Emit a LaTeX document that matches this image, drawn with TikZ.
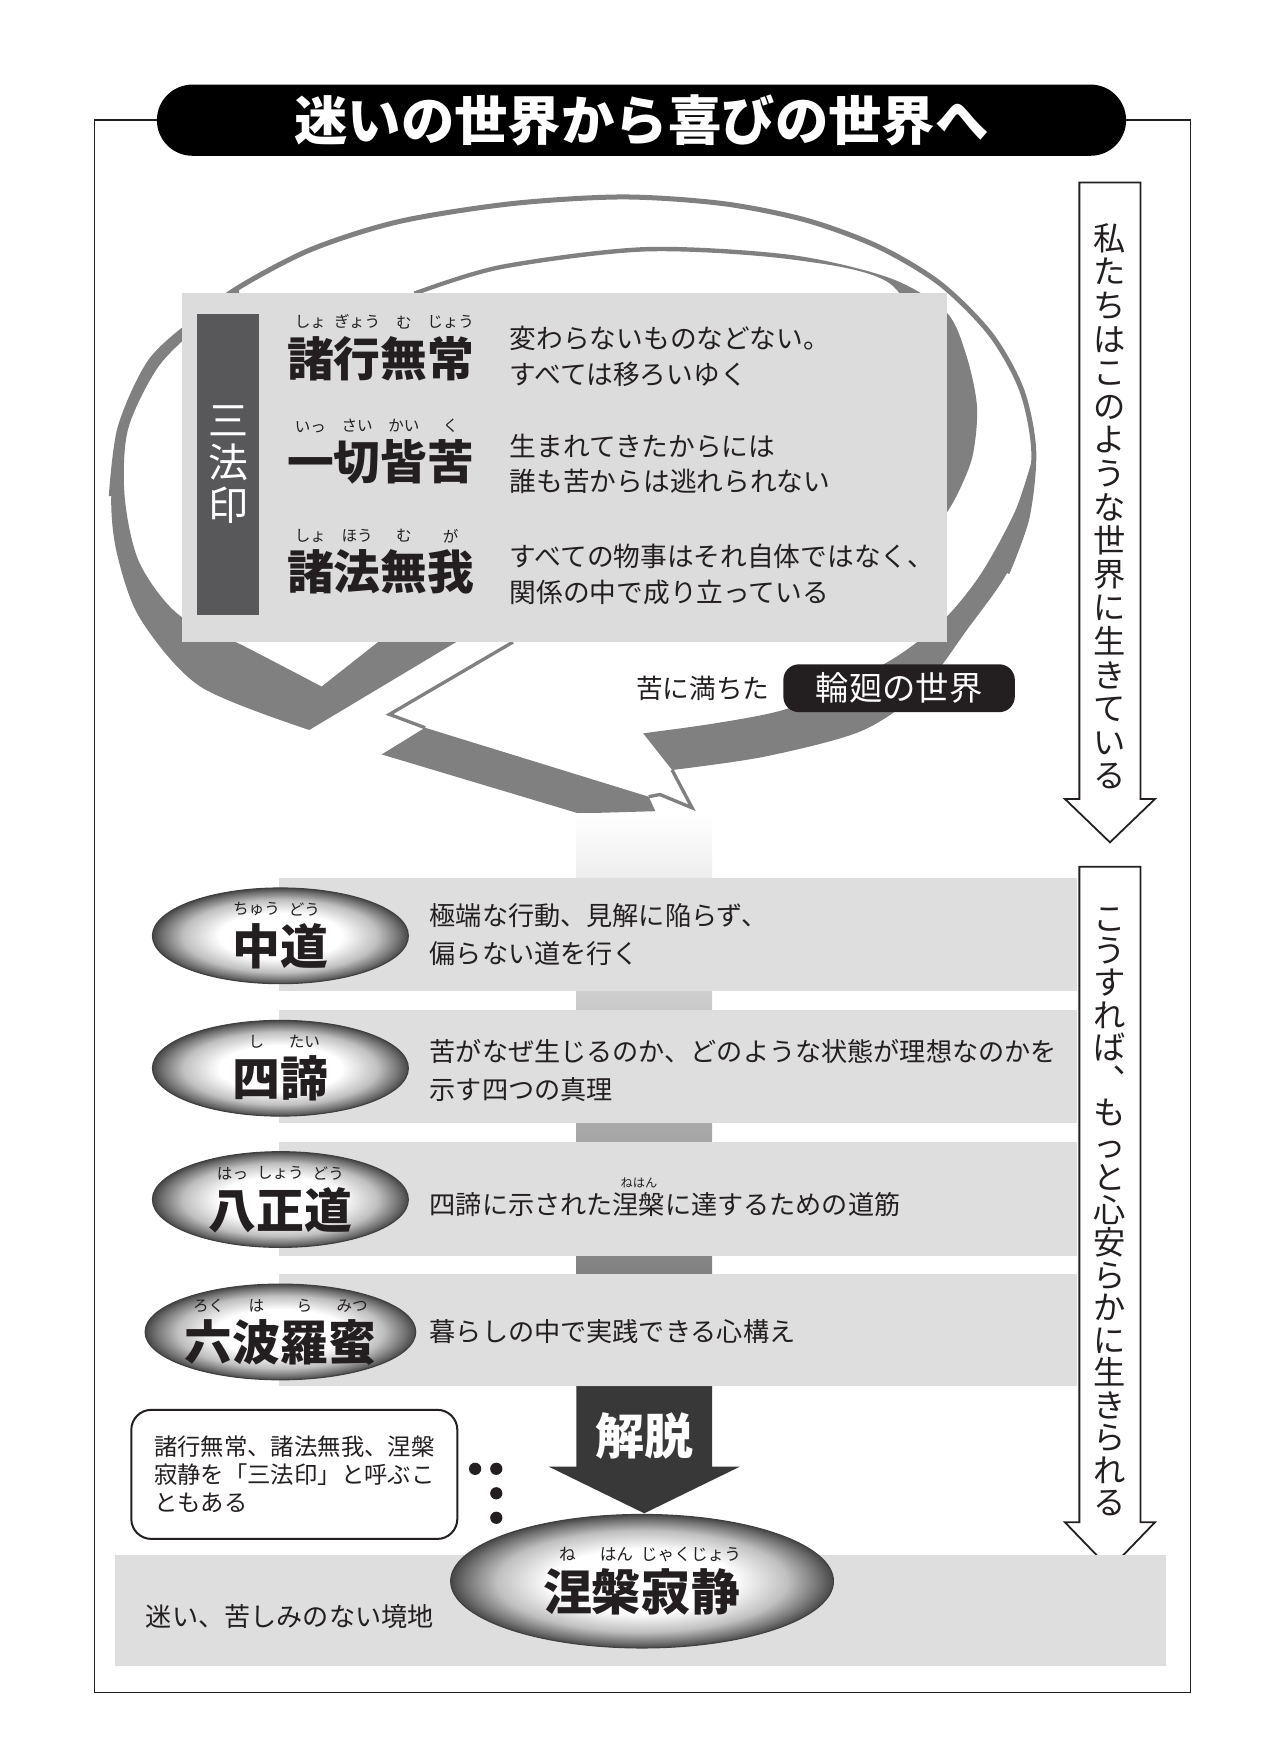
\documentclass[tikz,border=0pt]{standalone}
\usepackage{fontspec}
\setmainfont{Noto Sans CJK JP}
\newfontfamily\tatefont{Noto Sans CJK JP}
\usetikzlibrary{positioning,shapes.geometric}

\definecolor{ink}{HTML}{231F20}
\definecolor{uzu}{HTML}{808080}
\definecolor{hakoiro}{HTML}{DCDCDC}
\definecolor{obiiro}{HTML}{DEDEDE}
\definecolor{bariro}{HTML}{58585A}

\pgfdeclareradialshading{tama}{\pgfpoint{0bp}{0bp}}{color(0bp)=(white); color(12bp)=(white); color(19bp)=(black!25); color(23bp)=(black!55); color(25bp)=(black!72); color(50bp)=(black!72)}

% ruby over a base text
\newcommand\furi[3][14]{\leavevmode\vbox{\offinterlineskip\halign{\hfil##\hfil\cr\mdseries\fontsize{#1}{#1}\selectfont#3\cr\noalign{\kern.15em}\vrule height.86em width0pt#2\cr}}}

\begin{document}
\begin{tikzpicture}[x=1pt,y=-1pt]
        \tikzstyle{uzuobi}=[fill=uzu]
        \tikzstyle{uzusen}=[draw=uzu, line width=4.5pt, line join=round]
        \tikzstyle{uzuhoso}=[draw=uzu, line width=3pt, line join=miter]
        \tikzstyle{midashi}=[font=\fontsize{42}{46}\selectfont\bfseries, text=ink, inner sep=0pt, anchor=base]
        \tikzstyle{hakosetsu}=[font=\fontsize{24}{32}\selectfont, text=ink, inner sep=0pt, anchor=west, align=left]
        \tikzstyle{setsumei}=[font=\fontsize{23.5}{34}\selectfont, text=ink, inner sep=0pt, anchor=west, align=left]
        \tikzstyle{daen}=[ellipse, shade, shading=tama, draw=black!75, line width=1pt, minimum width=230pt, minimum height=86pt, inner sep=0pt, font=\fontsize{43}{47}\selectfont\bfseries, text=ink]
        \tikzstyle{yajirushi}=[draw=ink, line width=1.6pt, fill=white, line join=miter]
        \tikzstyle{tate}=[align=center, inner sep=0pt, text=ink]
        \useasboundingbox (0,0) rectangle (1150,1579);
        % frame
        \draw[ink, line width=1.5pt] (85,108) rectangle (1070,1521);
        % swirl of samsara
        \draw[uzusen] plot[smooth] coordinates {(100,446) (108,384) (135,325) (175,288) (215,258) (280,224) (359,199) (460,183) (560,177) (650,183) (725,198) (790,222) (845,255) (890,300) (918,350) (929,405) (923,465) (905,515)};
        \fill[uzuobi] plot[smooth] coordinates {(215,258) (175,288) (135,325) (108,384) (100,446) (105,497) (126,556) (180,617) (278,656)} -- (430,565) -- (355,565) -- plot[smooth] coordinates {(289,617) (218,580) (160,552) (125,505) (112,446) (115,386) (142,330) (180,292) (215,264)} -- cycle;
        \fill[uzuobi] plot[smooth] coordinates {(929,405) (923,465) (905,515) (869,566) (828,620) (774,657) (687,680) (604,692)} -- plot[smooth] coordinates {(578,659) (643,650) (704,638) (760,615) (809,588) (850,555) (882,515) (912,460) (927,415)} -- cycle;
        \fill[uzuobi] plot[smooth] coordinates {(372,262) (450,238) (580,222) (710,229) (800,250) (850,280) (868,318) (878,365) (874,410) (860,445) (845,470)} -- plot[smooth] coordinates {(838,440) (846,380) (836,325) (800,255) (710,233) (580,226) (450,242) (372,266)} -- cycle;
        \fill[uzuobi] (382,654) -- (583,716) -- (589,729) -- (520,731) -- (343,678) -- cycle;
        \draw[uzuhoso] (461,577) -- (350,642) -- (382,654);
        \draw[uzuhoso] (604,692) -- (622,726) -- (593,714) -- (583,716);
        % three marks
        \fill[hakoiro] (164,263) rectangle (851,577);
        \fill[bariro] (177,282) rectangle (233,553);
        \node[tate, text=white, font=\tatefont\fontsize{36}{38.5}\selectfont] (sanboin) at (205,417.5) {三\\法\\印};
        \node[midashi] (shogyo) at (342,338) {\furi{諸}{しょ}\furi{行}{ぎょう}\furi{無}{む}\furi{常}{じょう}};
        \node[midashi] (issai) at (342,431) {\furi{一}{いっ}\furi{切}{さい}\furi{皆}{かい}\furi{苦}{く}};
        \node[midashi] (shoho) at (342,530) {\furi{諸}{しょ}\furi{法}{ほう}\furi{無}{む}\furi{我}{が}};
        \node[hakosetsu] (shogyo-s) at (458,320) {変わらないものなどない。\\すべては移ろいゆく};
        \node[hakosetsu] (issai-s) at (458,417) {生まれてきたからには\\誰も苦からは逃れられない};
        \node[hakosetsu] (shoho-s) at (458,516) {すべての物事はそれ自体ではなく、\\関係の中で成り立っている};
        \node[fill=ink, rounded corners=14pt, minimum width=208pt, minimum height=43pt, inner sep=0pt, text=white, font=\fontsize{30}{32}\selectfont] (rinne) at (808,618.5) {輪廻の世界};
        \node[left=12pt of rinne, inner sep=0pt, text=ink, font=\fontsize{24}{26}\selectfont] (kuni) {苦に満ちた};
        % title
        \node[fill=black, rounded corners=32pt, minimum width=871pt, minimum height=64pt, inner sep=0pt, text=white, font=\fontsize{48}{52}\selectfont\bfseries] (taitoru) at (576.5,108) {迷いの世界から喜びの世界へ};
        % right arrows
        \draw[yajirushi] (970,164) -- (1025,164) -- (1025,718) -- (1038,718) -- (997.5,757) -- (957,718) -- (970,718) -- cycle;
        \node[tate, font=\tatefont\fontsize{29}{30.2}\selectfont] (ikiteiru) at (997.5,455) {私\\た\\ち\\は\\こ\\の\\よ\\う\\な\\世\\界\\に\\生\\き\\て\\い\\る};
        \draw[yajirushi] (970,779) -- (1025,779) -- (1025,1368) -- (1038,1368) -- (997.5,1410) -- (957,1368) -- (970,1368) -- cycle;
        \node[tate, font=\tatefont\fontsize{29}{29.2}\selectfont] (kousureba) at (997.5,1089) {こ\\う\\す\\れ\\ば\\︑\\も\\っ\\と\\心\\安\\ら\\か\\に\\生\\き\\ら\\れ\\る};
        % the path down
        \shade[top color=white, bottom color=black!62] (518,731) rectangle (640,1246);
        \fill[obiiro] (251,789) rectangle (968,891);
        \fill[obiiro] (251,908) rectangle (968,1009);
        \fill[obiiro] (251,1026) rectangle (968,1129);
        \fill[obiiro] (251,1145) rectangle (968,1246);
        \node[daen] (chudo) at (252,841) {\furi{中}{ちゅう}\furi{道}{どう}};
        \node[daen] (shitai) at (252,960) {\furi{四}{し}\furi{諦}{たい}};
        \node[daen] (hassho) at (252,1078) {\furi{八}{はっ}\furi{正}{しょう}\furi{道}{どう}};
        \node[daen] (rokuha) at (252,1197) {\furi{六}{ろく}\furi{波}{は}\furi{羅}{ら}\furi{蜜}{みつ}};
        \node[setsumei] (chudo-s) at (386,840) {極端な行動、見解に陥らず、\\偏らない道を行く};
        \node[setsumei] (shitai-s) at (386,962) {苦がなぜ生じるのか、どのような状態が理想なのかを\\示す四つの真理};
        \node[setsumei, anchor=base west] (hassho-s) at (386,1091) {四諦に示された\furi[11]{涅槃}{ねはん}に達するための道筋};
        \node[setsumei, anchor=base west] (rokuha-s) at (386,1206) {暮らしの中で実践できる心構え};
        % release
        \fill[black!78] (518,1246) -- (640,1246) -- (640,1318) -- (665,1318) -- (579,1360) -- (493,1318) -- (518,1318) -- cycle;
        \node[inner sep=0pt, text=white, font=\fontsize{44}{48}\selectfont\bfseries] (gedatsu) at (579,1290) {解脱};
        % nirvana
        \fill[obiiro] (103,1397) rectangle (1048,1497);
        \node[setsumei, anchor=base west] (kyochi) at (131,1462) {迷い、苦しみのない境地};
        \node[daen, minimum width=344pt, minimum height=120pt, font=\fontsize{44}{48}\selectfont\bfseries] (nehan) at (577,1421) {\furi[15]{涅}{ね}\furi[15]{槃}{はん}\furi[15]{寂}{じゃく}\furi[15]{静}{じょう}};
        \node[draw=ink, line width=1.8pt, rounded corners=18pt, fill=white, minimum width=293pt, minimum height=116pt, text width=252pt, align=left, inner sep=0pt, text=ink, font=\fontsize{21}{25}\selectfont] (chuki) at (264.5,1325) {諸行無常、諸法無我、涅槃\\寂静を「三法印」と呼ぶこ\\ともある};
        \fill[ink] (427,1320) circle (5.5) (446,1320) circle (5.5) (446,1342) circle (5.5) (446,1364) circle (5.5);
\end{tikzpicture}
\end{document}
